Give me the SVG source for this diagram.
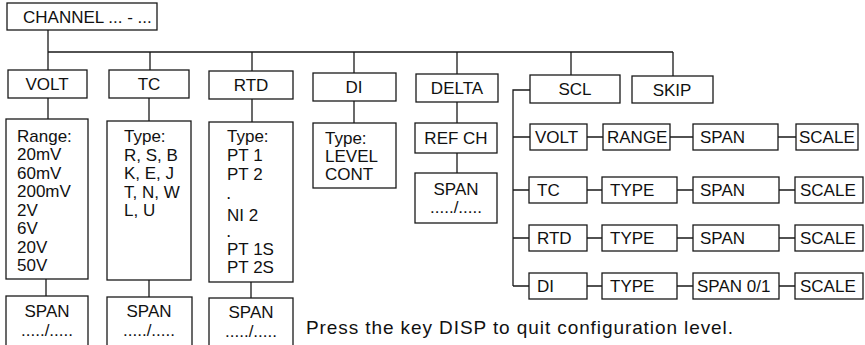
<svg xmlns="http://www.w3.org/2000/svg" width="865" height="345" viewBox="0 0 865 345">
<style>
  .b { fill: #fff; stroke: #1a1a1a; stroke-width: 1.3; }
  .c { fill: none; stroke: #1a1a1a; stroke-width: 1.3; }
  text { font-family: "Liberation Sans", Arial, sans-serif; font-size: 17px; fill: #111; }
  .m { text-anchor: middle; }
  .d { font-size: 12px; font-weight: bold; }
</style>
<rect width="865" height="345" fill="#fff"/>
<g id="connectors">
  <path class="c" d="M48,30 V52 M48,52 H673 M48,52 V70 M150,52 V70 M252,52 V71 M354,52 V73 M457,52 V74 M571,52 V75 M673,52 V76"/>
  <path class="c" d="M48,98 V119 M46,279 V296"/>
  <path class="c" d="M149,98 V121 M149,280 V297"/>
  <path class="c" d="M252,99 V122 M251,282 V298"/>
  <path class="c" d="M354,101 V123"/>
  <path class="c" d="M457,102 V123 M457,153 V173"/>
  <path class="c" d="M530,90 H513 V286 M513,137 H530 M513,190 H529 M513,238 H529 M513,286 H529"/>
  <path class="c" d="M587,137 H603 M670,137 H693 M778,137 H796"/>
  <path class="c" d="M587,190 H602 M677,190 H693 M779,190 H795"/>
  <path class="c" d="M587,238 H602 M677,238 H693 M779,238 H795"/>
  <path class="c" d="M587,286 H602 M677,286 H693 M779,286 H795"/>
</g>
<g id="channel"><rect class="b" x="7" y="3" width="150" height="27"/><text x="23" y="23">CHANNEL ... - ...</text></g>
<g id="volt"><rect class="b" x="8" y="70" width="79" height="28"/><text class="m" x="47" y="90">VOLT</text></g>
<g id="tc"><rect class="b" x="109" y="70" width="80" height="28"/><text class="m" x="149" y="90">TC</text></g>
<g id="rtd"><rect class="b" x="209" y="71" width="84" height="28"/><text class="m" x="251" y="91">RTD</text></g>
<g id="di"><rect class="b" x="313" y="73" width="83" height="28"/><text class="m" x="354" y="93">DI</text></g>
<g id="delta"><rect class="b" x="416" y="74" width="82" height="28"/><text class="m" x="457" y="94">DELTA</text></g>
<g id="scl"><rect class="b" x="530" y="75" width="90" height="28"/><text class="m" x="575" y="95">SCL</text></g>
<g id="skip"><rect class="b" x="632" y="76" width="81" height="27"/><text class="m" x="672" y="96">SKIP</text></g>

<g id="volt-range"><rect class="b" x="6" y="119" width="82" height="160"/>
  <text x="17" y="141.5">Range:</text><text x="17" y="160">20mV</text><text x="17" y="178.5">60mV</text><text x="17" y="197">200mV</text><text x="17" y="215.5">2V</text><text x="17" y="234">6V</text><text x="17" y="252.5">20V</text><text x="17" y="271">50V</text></g>
<g id="tc-type"><rect class="b" x="107" y="121" width="84" height="159"/>
  <text x="124" y="142">Type:</text><text x="124" y="160.5">R, S, B</text><text x="124" y="179">K, E, J</text><text x="124" y="197.5">T, N, W</text><text x="124" y="216">L, U</text></g>
<g id="rtd-type"><rect class="b" x="209" y="122" width="84" height="160"/>
  <text x="227" y="142">Type:</text><text x="227" y="161">PT 1</text><text x="227" y="180">PT 2</text><text class="d" x="227" y="199">.</text><text x="227" y="221">NI 2</text><text class="d" x="227" y="237">.</text><text x="227" y="255">PT 1S</text><text x="227" y="273">PT 2S</text></g>
<g id="volt-span"><rect class="b" x="6" y="296" width="82" height="60"/><text class="m" x="47" y="317">SPAN</text><text class="m" x="47" y="336">...../.....</text></g>
<g id="tc-span"><rect class="b" x="107" y="297" width="85" height="60"/><text class="m" x="149" y="317">SPAN</text><text class="m" x="149" y="336">...../.....</text></g>
<g id="rtd-span"><rect class="b" x="209" y="298" width="84" height="60"/><text class="m" x="251" y="318">SPAN</text><text class="m" x="251" y="337">...../.....</text></g>
<g id="di-type"><rect class="b" x="313" y="123" width="83" height="65"/>
  <text x="325" y="144">Type:</text><text x="325" y="162">LEVEL</text><text x="325" y="180">CONT</text></g>
<g id="delta-refch"><rect class="b" x="415" y="123" width="82" height="30"/><text class="m" x="456" y="144">REF CH</text></g>
<g id="delta-span"><rect class="b" x="415" y="173" width="82" height="50"/><text class="m" x="456" y="195">SPAN</text><text class="m" x="456" y="213">...../.....</text></g>

<g id="scl-volt"><rect class="b" x="530" y="124" width="57" height="26"/><text x="535" y="143">VOLT</text></g>
<g id="scl-volt-range"><rect class="b" x="603" y="124" width="67" height="26"/><text x="607" y="143">RANGE</text></g>
<g id="scl-volt-span"><rect class="b" x="693" y="124" width="85" height="26"/><text x="700" y="143">SPAN</text></g>
<g id="scl-volt-scale"><rect class="b" x="796" y="124" width="62" height="26"/><text x="799" y="143">SCALE</text></g>

<g id="scl-tc"><rect class="b" x="529" y="177" width="58" height="26"/><text x="537" y="196">TC</text></g>
<g id="scl-tc-type"><rect class="b" x="602" y="177" width="75" height="26"/><text x="610" y="196">TYPE</text></g>
<g id="scl-tc-span"><rect class="b" x="693" y="177" width="86" height="26"/><text x="700" y="196">SPAN</text></g>
<g id="scl-tc-scale"><rect class="b" x="795" y="177" width="68" height="26"/><text x="800" y="196">SCALE</text></g>

<g id="scl-rtd"><rect class="b" x="529" y="225" width="58" height="26"/><text x="537" y="244">RTD</text></g>
<g id="scl-rtd-type"><rect class="b" x="602" y="225" width="75" height="26"/><text x="610" y="244">TYPE</text></g>
<g id="scl-rtd-span"><rect class="b" x="693" y="225" width="86" height="26"/><text x="700" y="244">SPAN</text></g>
<g id="scl-rtd-scale"><rect class="b" x="795" y="225" width="68" height="26"/><text x="800" y="244">SCALE</text></g>

<g id="scl-di"><rect class="b" x="529" y="273" width="58" height="26"/><text x="537" y="292">DI</text></g>
<g id="scl-di-type"><rect class="b" x="602" y="273" width="75" height="26"/><text x="610" y="292">TYPE</text></g>
<g id="scl-di-span"><rect class="b" x="693" y="273" width="86" height="26"/><text x="697" y="292">SPAN 0/1</text></g>
<g id="scl-di-scale"><rect class="b" x="795" y="273" width="68" height="26"/><text x="800" y="292">SCALE</text></g>

<text x="306" y="334" style="font-size:19px" textLength="427">Press the key DISP to quit configuration level.</text>
</svg>
